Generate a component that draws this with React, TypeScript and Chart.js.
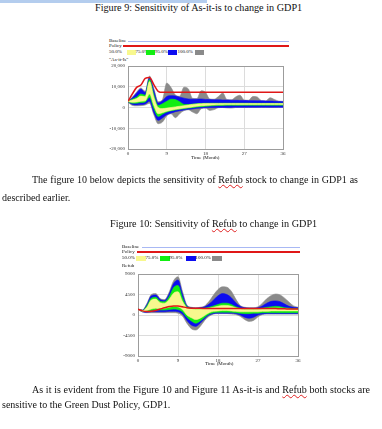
import React, { useEffect, useRef } from "react";
import { Chart, registerables } from "chart.js";
Chart.register(...registerables);

// ---------- data ----------
const months = [0,1,2,3,4,5,6,7,8,9,10,11,12,13,14,15,16,17,18,19,20,21,22,23,24,25,26,27,28,29,30,31,32,33,34,35,36];
const xTicks = [0, 9, 18, 27, 36];
const asItIsTicks = [-20000, -10000, 0, 10000, 20000];
const refubTicks = [-9000, -4500, 0, 4500, 9000];

// Figure 9: As-it-is
const asItIsPolicy = [3000,6500,9700,10800,14000,14500,11000,7800,7300,7300,7300,7300,7300,7300,7300,7300,7300,7300,7300,7300,7300,7300,7300,7300,7300,7300,7300,7300,7300,7300,7300,7300,7300,7300,7300,7300,7300];
const asItIsGrayHi = [3200,5000,7400,9400,7800,15200,9200,2800,3800,11800,9600,6000,5400,9800,9000,4400,4300,8100,7300,4100,4000,5300,7000,3800,3700,5100,5900,3600,3500,5300,5100,3300,3200,4700,3900,3100,3000];
const asItIsBlueHi = [3100,4600,7000,8900,7200,14400,8200,2200,3200,5300,5700,5600,5000,4500,4100,4000,4000,4100,3900,3800,3700,3700,3600,3600,3500,3500,3400,3400,3300,3300,3200,3200,3100,3100,3000,2900,2800];
const asItIsGreenHi = [3000,4000,5000,6500,5900,13500,6200,1000,1800,3000,4000,3800,2800,1500,1400,1650,1850,1950,2050,2050,2050,2050,2050,2050,2050,2050,2050,2050,2050,2000,2000,2000,2000,2000,2000,2000,2000];
const asItIsYellowHi = [3000,3600,4300,5500,5200,12500,5000,0,-500,-300,0,300,600,900,1200,1500,1700,1800,1900,1950,1950,1950,1950,1950,1950,1950,1950,1950,1950,1900,1900,1900,1900,1900,1900,1900,1900];
const asItIsYellowLo = [2900,2500,2600,3000,3200,6500,1000,-3000,-2500,-1800,-1300,-900,-600,-300,0,300,600,800,1000,1100,1200,1300,1300,1400,1400,1400,1400,1400,1400,1400,1400,1400,1400,1400,1400,1400,1400];
const asItIsGreenLo = [2800,2100,2100,2400,2700,5000,-500,-4300,-3200,-2200,-1600,-1200,-900,-600,-300,-100,200,400,600,750,850,950,1000,1050,1050,1050,1050,1100,1100,1100,1100,1100,1100,1100,1100,1100,1100];
const asItIsBlueLo = [2700,1500,1200,1400,1700,3000,-2500,-6200,-5000,-3500,-2700,-2000,-1600,-1200,-900,-700,-400,-200,-100,0,0,50,50,50,50,100,100,100,100,100,100,100,100,100,100,100,100];
const asItIsGrayLo = [2600,1000,800,900,1200,2000,-3500,-7800,-7000,-4000,-3000,-4900,-3000,-1500,-1100,-2200,-3000,-600,-300,-1400,-1000,-100,0,-200,-300,0,50,0,50,50,50,100,100,50,50,100,100];

// Figure 10: Refub
const refubPolicy = [1300,900,750,800,1000,1300,1600,1850,2000,2000,1800,1600,1500,1480,1460,1450,1450,1450,1450,1450,1450,1450,1450,1450,1450,1450,1450,1450,1450,1400,1400,1400,1350,1350,1300,1300,1300];
const refubGrayHi = [1300,1100,2500,4500,4700,3600,3400,5000,7500,8400,5200,2200,1700,1600,1700,2000,3000,4400,5600,6200,6100,5200,3500,2100,1700,1600,1600,1800,2600,3600,4300,4600,4400,3700,2800,2000,1700];
const refubBlueHi = [1300,1050,2300,4200,4400,3400,3200,4600,6900,7700,4600,2000,1600,1500,1600,1800,2400,3300,4200,4700,4500,3800,2700,1900,1600,1500,1500,1600,2000,2600,3000,3100,2900,2400,1900,1700,1600];
const refubGreenHi = [1300,1000,2000,3700,3900,3000,2900,4000,6000,6500,3800,1800,1500,1400,1400,1500,1700,2000,2300,2600,2600,2300,1800,1500,1400,1400,1400,1400,1500,1700,1800,1900,1800,1600,1500,1400,1400];
const refubYellowHi = [1300,950,1700,3300,3500,2700,2600,3400,4800,5100,3000,1600,1300,1200,1200,1300,1500,1700,1900,2100,2100,1900,1600,1300,1200,1200,1200,1200,1300,1400,1500,1500,1500,1400,1300,1200,1200];
const refubYellowLo = [1300,850,1000,1300,1500,1400,1500,1700,1900,1800,1200,0,-600,-1000,-700,-100,500,800,900,1000,1000,900,800,700,700,700,700,700,800,800,900,900,900,900,900,900,900];
const refubGreenLo = [1300,800,800,1000,1100,1100,1100,1200,1300,1200,700,-500,-1300,-1800,-1300,-500,200,500,600,600,600,600,500,400,300,300,400,400,500,500,500,500,500,500,500,500,500];
const refubBlueLo = [1300,700,600,700,700,700,700,800,800,700,200,-1200,-2200,-2500,-1800,-800,0,300,400,400,400,400,300,0,-500,-700,-500,0,200,300,300,300,300,300,300,300,300];
const refubGrayLo = [1300,650,500,500,500,500,500,500,500,400,-200,-1800,-3000,-3300,-2500,-1200,-300,200,300,300,300,200,100,-300,-1000,-1400,-1200,-400,100,200,200,200,200,200,200,200,200];

// ---------- styles ----------
const YELLOW = "#f8f88e";
const GREEN = "#12ee12";
const BLUE = "#0c0cf0";
const GRAY = "#8a8a8a";
const RED = "#e01818";
const BASE = "#a8b8f4";
const SERIF = "'Liberation Serif', 'Times New Roman', serif";

type Bands = { yHi: number[]; yLo: number[]; nHi: number[]; nLo: number[]; bHi: number[]; bLo: number[]; gHi: number[]; gLo: number[] };

function pts(arr: number[]) {
  return arr.map((v, i) => ({ x: months[i], y: v }));
}

function BandChart(props: {
  left: number; top: number; width: number; height: number; yAxisWidth: number; padTop: number;
  yTicks: number[]; fmt: (v: number) => string; policy: number[]; bands: Bands;
}) {
  const ref = useRef<HTMLCanvasElement | null>(null);
  useEffect(() => {
    if (!ref.current) return;
    const b = props.bands;
    const band = (data: number[], color: string, fill: any) => ({
      data: pts(data), borderColor: color, backgroundColor: color, borderWidth: 0.6,
      fill, pointRadius: 0, cubicInterpolationMode: "monotone" as const,
    });
    const yt = props.yTicks;
    const gridColor = (ctx: any, n: number) => (ctx.index === 0 || ctx.index === n - 1 ? "#9c9c9c" : "#dcdcdc");
    const chart = new Chart(ref.current, {
      type: "line",
      data: {
        datasets: [
          { data: pts(props.policy), borderColor: RED, borderWidth: 1.5, fill: false, pointRadius: 0, cubicInterpolationMode: "monotone" },
          band(b.yHi, YELLOW, "+1"), band(b.yLo, YELLOW, false),
          band(b.nHi, GREEN, "+1"), band(b.nLo, GREEN, false),
          band(b.bHi, BLUE, "+1"), band(b.bLo, BLUE, false),
          band(b.gHi, GRAY, "+1"), band(b.gLo, GRAY, false),
        ] as any,
      },
      options: {
        animation: false,
        responsive: false,
        maintainAspectRatio: false,
        events: [],
        layout: { padding: { top: props.padTop, right: 7, left: 0, bottom: 0 } },
        plugins: { legend: { display: false }, tooltip: { enabled: false } },
        scales: {
          x: {
            type: "linear", min: xTicks[0], max: xTicks[xTicks.length - 1],
            afterBuildTicks: (s: any) => { s.ticks = xTicks.map((v) => ({ value: v })); },
            afterFit: (s: any) => { s.height = 14; },
            ticks: { font: { size: 5, family: SERIF }, color: "#333", padding: 2, maxRotation: 0, autoSkip: false },
            grid: { drawTicks: false, color: (c: any) => gridColor(c, xTicks.length), lineWidth: 1 },
            border: { display: true, color: "#9c9c9c" },
          },
          y: {
            type: "linear", min: yt[0], max: yt[yt.length - 1],
            afterBuildTicks: (s: any) => { s.ticks = yt.map((v) => ({ value: v })); },
            afterFit: (s: any) => { s.width = props.yAxisWidth; },
            ticks: { font: { size: 5, family: SERIF }, color: "#333", padding: 3, callback: (v: any) => props.fmt(Number(v)), autoSkip: false },
            grid: { drawTicks: false, color: (c: any) => gridColor(c, yt.length), lineWidth: 1 },
            border: { display: true, color: "#9c9c9c" },
          },
        },
      },
    });
    return () => chart.destroy();
  }, []);
  return (
    <canvas ref={ref} width={props.width} height={props.height}
      style={{ position: "absolute", left: props.left, top: props.top, width: props.width, height: props.height }} />
  );
}

function T(p: { x: number; y: number; s?: number; w?: number; justify?: boolean; children: any; color?: string }) {
  const s = p.s ?? 10;
  return (
    <div style={{
      position: "absolute", left: p.x, top: p.y - s * 0.6, fontSize: s, lineHeight: 1, fontFamily: SERIF,
      whiteSpace: "nowrap", color: p.color ?? "#111", width: p.w,
      textAlign: p.justify ? "justify" : "left", textAlignLast: p.justify ? "justify" : "auto",
    } as any}>{p.children}</div>
  );
}

const Box = (p: { x: number; y: number; w: number; h: number; c: string }) => (
  <div style={{ position: "absolute", left: p.x, top: p.y, width: p.w, height: p.h, background: p.c }} />
);

const Refub = () => (
  <span style={{ textDecorationLine: "underline", textDecorationStyle: "wavy", textDecorationColor: "#e02020", textDecorationThickness: "1px" } as any}>Refub</span>
);

function Legend(p: { x: number; y: number; lineStart: number[]; lineEnd: number; boxes: number[]; texts: number[]; bw: number; name: string }) {
  const y = p.y;
  return (
    <>
      <T x={p.x} y={y} s={5}>Baseline</T>
      <Box x={p.lineStart[0]} y={y - 0.5} w={p.lineEnd - p.lineStart[0]} h={1} c={BASE} />
      <T x={p.x} y={y + 5} s={5}>Policy</T>
      <Box x={p.lineStart[1]} y={y + 4} w={p.lineEnd - p.lineStart[1]} h={2} c={RED} />
      <T x={p.x} y={y + 11} s={5}>50.0%</T>
      <Box x={p.boxes[0]} y={y + 8.5} w={p.bw} h={5} c={YELLOW} />
      <T x={p.texts[0]} y={y + 11} s={5}>75.0%</T>
      <Box x={p.boxes[1]} y={y + 8.5} w={p.bw} h={5} c={GREEN} />
      <T x={p.texts[1]} y={y + 11} s={5}>95.0%</T>
      <Box x={p.boxes[2]} y={y + 8.5} w={p.bw} h={5} c={BLUE} />
      <T x={p.texts[2]} y={y + 11} s={5}>100.0%</T>
      <Box x={p.boxes[3]} y={y + 8.5} w={p.bw} h={5} c={GRAY} />
      <T x={p.x} y={y + 18.5} s={5}>{p.name}</T>
    </>
  );
}

export default function App() {
  return (
    <div style={{ position: "absolute", left: 0, top: 0, width: 382, height: 429, background: "#fff", overflow: "hidden" }}>
      <Box x={0} y={0} w={207} h={3} c="#b4cdee" />
      <T x={95} y={9} s={10.2}>Figure 9: Sensitivity of As-it-is to change in GDP1</T>

      <Legend x={109} y={41} lineStart={[128, 123]} lineEnd={289} boxes={[127, 146, 168, 195]} texts={[135.5, 155, 177.5]} bw={8.5} name={'"As-it-Is"'} />
      <BandChart left={100} top={60} width={190} height={103} yAxisWidth={28} padTop={5}
        yTicks={asItIsTicks} fmt={(v) => v.toLocaleString("en-US")} policy={asItIsPolicy}
        bands={{ yHi: asItIsYellowHi, yLo: asItIsYellowLo, nHi: asItIsGreenHi, nLo: asItIsGreenLo, bHi: asItIsBlueHi, bLo: asItIsBlueLo, gHi: asItIsGrayHi, gLo: asItIsGrayLo }} />
      <T x={191} y={158} s={5}>Time (Month)</T>

      <T x={32} y={181} w={326} justify>The figure 10 below depicts the sensitivity of <Refub /> stock to change in GDP1 as</T>
      <T x={2} y={199}>described earlier.</T>
      <T x={110} y={225} s={10.2}>Figure 10: Sensitivity of <Refub /> to change in GDP1</T>

      <Legend x={122} y={247} lineStart={[142, 137]} lineEnd={300} boxes={[136, 160, 186, 212]} texts={[145.5, 169.5, 195.5]} bw={9.5} name="Refub" />
      <BandChart left={108} top={268} width={197} height={102} yAxisWidth={30} padTop={6}
        yTicks={refubTicks} fmt={(v) => String(v)} policy={refubPolicy}
        bands={{ yHi: refubYellowHi, yLo: refubYellowLo, nHi: refubGreenHi, nLo: refubGreenLo, bHi: refubBlueHi, bLo: refubBlueLo, gHi: refubGrayHi, gLo: refubGrayLo }} />
      <T x={205} y={364} s={5}>Time (Month)</T>

      <T x={32} y={391} w={338} justify>As it is evident from the Figure 10 and Figure 11 As-it-is and <Refub /> both stocks are</T>
      <T x={2} y={406}>sensitive to the Green Dust Policy, GDP1.</T>
    </div>
  );
}
